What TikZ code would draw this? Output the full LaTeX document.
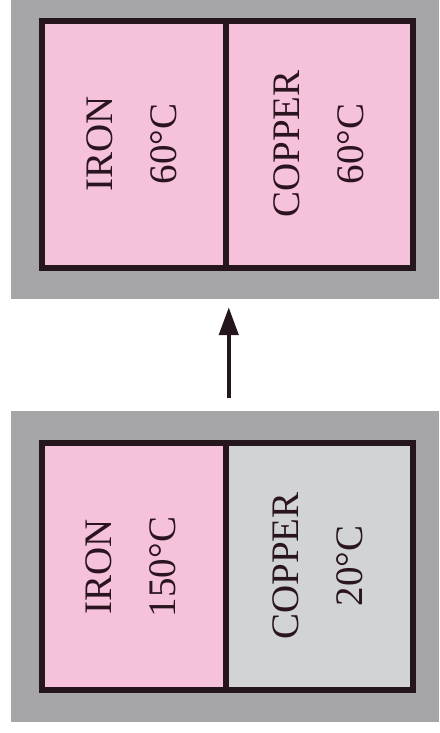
\documentclass[tikz,border=0pt]{standalone}
\usepackage{fontspec}
\setmainfont{Liberation Serif}
\usetikzlibrary{arrows.meta}
\definecolor{frame}{HTML}{A6A6A8}
\definecolor{hot}{HTML}{F6C1DB}
\definecolor{cold}{HTML}{D1D3D6}
\definecolor{edge}{HTML}{24161C}
\definecolor{ink}{HTML}{2A1420}
\tikzset{
  holder/.style={fill=frame, draw=none, minimum width=428pt, minimum height=311pt, inner sep=0pt},
  cell/.style={draw=edge, line width=5.5pt, minimum height=247pt, inner sep=0pt},
  tag/.style={rotate=90, align=center, inner sep=0pt, text=ink,
    font=\fontsize{39}{64}\selectfont},
  flow/.style={line width=4.5pt, draw=edge, -{Triangle[length=28pt,width=19pt]}}
}
\begin{document}
\begin{tikzpicture}[x=1pt,y=1pt]
\useasboundingbox (0,0) rectangle (439,733);
% grey holders of the two states
\node[holder, minimum height=299pt] (after) at (225,583.5) {};
\node[holder] (before) at (225,166.5) {};
% final state: both blocks at 60 C
\node[cell, fill=hot, minimum width=184pt] (ironA) at (134,588.5) {};
\node[cell, fill=hot, minimum width=187pt] (copperA) at (319.5,588.5) {};
% initial state
\node[cell, fill=hot, minimum width=184pt] (ironB) at (134,166.5) {};
\node[cell, fill=cold, minimum width=187pt] (copperB) at (319.5,166.5) {};
% labels
\node[tag] (tIronA) at (131.5,589) {IRON\\60°C};
\node[tag] (tCopperA) at (318.5,589) {COPPER\\60°C};
\node[tag] (tIronB) at (131,166) {IRON\\150°C};
\node[tag] (tCopperB) at (318,167) {COPPER\\20°C};
% arrow from initial to final state
\draw[flow, shorten <=13pt, shorten >=8pt] (before.north -| ironB.east) -- (after.south -| ironA.east);
\end{tikzpicture}
\end{document}
